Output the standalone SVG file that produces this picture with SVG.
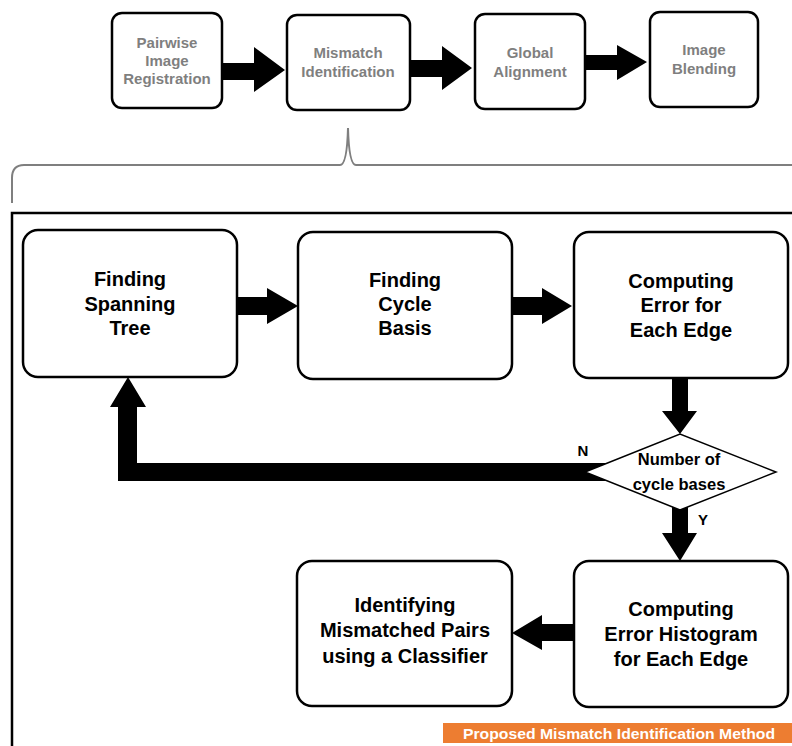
<svg xmlns="http://www.w3.org/2000/svg" width="792" height="746" viewBox="0 0 792 746">
<style>
.top{fill:#fff;stroke:#000;stroke-width:2.5}
.box{fill:#fff;stroke:#000;stroke-width:2.5}
.tt{font-family:"Liberation Sans",Arial,sans-serif;font-weight:bold;font-size:15px;fill:#7f7f7f;text-anchor:middle}
.bt{font-family:"Liberation Sans",Arial,sans-serif;font-weight:bold;font-size:20px;fill:#000;text-anchor:middle}
.dt{font-family:"Liberation Sans",Arial,sans-serif;font-weight:bold;font-size:16.5px;fill:#000;text-anchor:middle}
.lb{font-family:"Liberation Sans",Arial,sans-serif;font-weight:bold;font-size:15px;fill:#000;text-anchor:middle}
.arr{fill:#000;stroke:none}
</style>
<rect width="792" height="746" fill="#fff"/>

<g id="connectors">
  <polygon class="arr" points="222,63 254,63 254,47 285,70 254,92 254,80 222,80"/>
  <polygon class="arr" points="410,60 442,60 442,46 472,68 442,90 442,77 410,77"/>
  <polygon class="arr" points="585,55 617,55 617,45 647,62 617,80 617,70 585,70"/>
  <polygon class="arr" points="237,297 267,297 267,288 298,306 267,324 267,315 237,315"/>
  <polygon class="arr" points="512,297 542,297 542,288 572,306 542,324 542,315 512,315"/>
  <polygon class="arr" points="672,378 688,378 688,411 697,411 680,434 662,411 672,411"/>
  <polygon class="arr" points="620,463 137,463 137,407 146,407 128,377 110,407 118,407 118,481 620,481"/>
  <polygon class="arr" points="672,500 688,500 688,533 697,533 680,561 662,533 672,533"/>
  <polygon class="arr" points="573,624 542,624 542,615 512,633 542,650 542,641 573,641"/>
</g>

<path id="bracket" d="M12,203 L12,178 Q12,165 24,165 L340,165 Q347,165 348,128 Q349,165 356,165 L794,165" fill="none" stroke="#7f7f7f" stroke-width="2"/>
<rect id="frame" x="12" y="213" width="800" height="560" fill="none" stroke="#000" stroke-width="2.5"/>

<g id="pairwise">
  <rect class="top" x="112" y="13" width="110" height="95" rx="10"/>
  <text class="tt" x="167" y="48">Pairwise</text>
  <text class="tt" x="167" y="66">Image</text>
  <text class="tt" x="167" y="84">Registration</text>
</g>
<g id="mismatch">
  <rect class="top" x="287" y="15" width="123" height="95" rx="10"/>
  <text class="tt" x="348" y="58">Mismatch</text>
  <text class="tt" x="348" y="77">Identification</text>
</g>
<g id="global">
  <rect class="top" x="475" y="14" width="110" height="95" rx="10"/>
  <text class="tt" x="530" y="58">Global</text>
  <text class="tt" x="530" y="77">Alignment</text>
</g>
<g id="blending">
  <rect class="top" x="650" y="12" width="108" height="95" rx="10"/>
  <text class="tt" x="704" y="55">Image</text>
  <text class="tt" x="704" y="74">Blending</text>
</g>

<g id="spanning">
  <rect class="box" x="23" y="230" width="214" height="147" rx="15"/>
  <text class="bt" x="130" y="286">Finding</text>
  <text class="bt" x="130" y="311">Spanning</text>
  <text class="bt" x="130" y="335">Tree</text>
</g>
<g id="cycle">
  <rect class="box" x="298" y="232" width="214" height="147" rx="15"/>
  <text class="bt" x="405" y="287">Finding</text>
  <text class="bt" x="405" y="311">Cycle</text>
  <text class="bt" x="405" y="335">Basis</text>
</g>
<g id="error">
  <rect class="box" x="574" y="232" width="214" height="146" rx="15"/>
  <text class="bt" x="681" y="288">Computing</text>
  <text class="bt" x="681" y="312">Error for</text>
  <text class="bt" x="681" y="337">Each Edge</text>
</g>
<g id="decision">
  <polygon points="585,472 680,434 776,472 680,510" fill="#fff" stroke="#000" stroke-width="1.5"/>
  <text class="dt" x="679" y="465">Number of</text>
  <text class="dt" x="679" y="490">cycle bases</text>
</g>
<text class="lb" x="583" y="456">N</text>
<text class="lb" x="703" y="525">Y</text>
<g id="histogram">
  <rect class="box" x="574" y="561" width="214" height="146" rx="15"/>
  <text class="bt" x="681" y="616">Computing</text>
  <text class="bt" x="681" y="641">Error Histogram</text>
  <text class="bt" x="681" y="666">for Each Edge</text>
</g>
<g id="classifier">
  <rect class="box" x="297" y="561" width="215" height="145" rx="15"/>
  <text class="bt" x="405" y="612">Identifying</text>
  <text class="bt" x="405" y="637">Mismatched Pairs</text>
  <text class="bt" x="405" y="663">using a Classifier</text>
</g>
<g id="label">
  <rect x="443" y="723" width="349" height="20" fill="#ed7d31"/>
  <text x="619" y="738.5" font-family="Liberation Sans, Arial, sans-serif" font-weight="bold" font-size="15.5" fill="#fff" text-anchor="middle" textLength="312" lengthAdjust="spacingAndGlyphs">Proposed Mismatch Identification Method</text>
</g>
</svg>
